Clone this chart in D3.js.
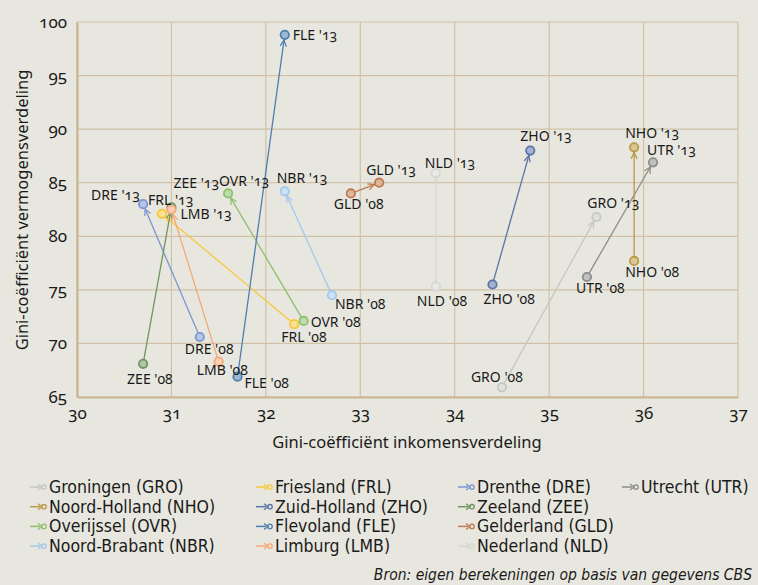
<!DOCTYPE html>
<html>
<head>
<meta charset="utf-8">
<title>Gini inkomen vs vermogen</title>
<script src="https://cdnjs.cloudflare.com/ajax/libs/d3/7.8.5/d3.min.js"></script>
<style>
  body { margin: 0; background: #e8e7df; }
  svg { display: block; }
  .num { font-variant-numeric: oldstyle-nums; }
</style>
</head>
<body>
<script>
// data
var codes   = ["GRO", "FRL", "DRE", "UTR", "NHO", "ZHO", "ZEE", "OVR", "FLE", "GLD", "NBR", "LMB", "NLD"];
var names   = ["Groningen", "Friesland", "Drenthe", "Utrecht", "Noord-Holland", "Zuid-Holland", "Zeeland",
               "Overijssel", "Flevoland", "Gelderland", "Noord-Brabant", "Limburg", "Nederland"];
var inkomen08  = [34.5, 32.3, 31.3, 35.4, 35.9, 34.4, 30.7, 32.4, 31.7, 32.9, 32.7, 31.5, 33.8];
var vermogen08 = [65.9, 71.8, 70.6, 76.2, 77.7, 75.5, 68.1, 72.1, 66.9, 84.0, 74.5, 68.3, 75.3];
var inkomen13  = [35.5, 30.9, 30.7, 36.1, 35.9, 34.8, 31.0, 31.6, 32.2, 33.2, 32.2, 31.0, 33.8];
var vermogen13 = [81.8, 82.1, 83.0, 86.9, 88.3, 88.0, 82.7, 84.0, 98.8, 85.0, 84.2, 82.5, 85.9];
var colors = ["#c6c6c2", "#f7c83a", "#7b96d2", "#8c8c8a", "#b99a45", "#5a74aa", "#6f9562",
              "#8cc06c", "#4f7fb0", "#c07a50", "#a4c8ec", "#f5a878", "#d6d6d2"];
var xTicks = [30, 31, 32, 33, 34, 35, 36, 37];
var yTicks = [65, 70, 75, 80, 85, 90, 95, 100];
var legendOrder = ["GRO", "NHO", "OVR", "NBR", "FRL", "ZHO", "FLE", "LMB", "DRE", "ZEE", "GLD", "NLD", "UTR"];

// label placement (pixels from the point): [dx, dy] for '08 and '13
var lab08 = {GRO: [-31, -5], FRL: [-13, 18], DRE: [-15, 17], UTR: [-11, 16], NHO: [-9, 16], ZHO: [-9, 19],
             ZEE: [-16, 20], OVR: [7, 6], FLE: [7, 11], GLD: [-17, 16], NBR: [3, 14], LMB: [-22, 13], NLD: [-19, 19]};
var lab13 = {GRO: [-9, -9], FRL: [-14, -9], DRE: [-52, -4], UTR: [-6, -7], NHO: [-9, -9], ZHO: [-10, -10],
             ZEE: [2, -19], OVR: [-9, -7], FLE: [8, 5], GLD: [-13, -8], NBR: [-8, -8], LMB: [9, 9], NLD: [-11, -5]};

var width = 758, height = 585;
var x0 = 77, x1 = 738, y0 = 397, y1 = 22;

var data = codes.map(function(c, i) {
  return {code: c, name: names[i], color: colors[i],
          a: [inkomen08[i], vermogen08[i]], b: [inkomen13[i], vermogen13[i]]};
});

var svg = d3.select("body").append("svg")
  .attr("width", width).attr("height", height)
  .style("font-family", "'Noto Sans', 'Open Sans', sans-serif");

var x = d3.scaleLinear().domain([30, 37]).range([x0, x1]);
var y = d3.scaleLinear().domain([65, 100]).range([y0, y1]);

// grid
svg.append("g").selectAll("line").data(xTicks).join("line")
  .attr("x1", d => x(d)).attr("x2", d => x(d)).attr("y1", y1).attr("y2", y0)
  .attr("stroke", "#cfc2a6").attr("stroke-width", 1.2);
svg.append("g").selectAll("line").data(yTicks).join("line")
  .attr("x1", x0).attr("x2", x1).attr("y1", d => y(d)).attr("y2", d => y(d))
  .attr("stroke", "#cfc2a6").attr("stroke-width", 1.2);

// axes
var xAxis = svg.append("g").attr("transform", "translate(0," + y0 + ")")
  .call(d3.axisBottom(x).tickValues(xTicks).tickFormat(d3.format("d")).tickSize(0).tickPadding(10));
var yAxis = svg.append("g").attr("transform", "translate(" + x0 + ",0)")
  .call(d3.axisLeft(y).tickValues(yTicks).tickFormat(d3.format("d")).tickSize(0).tickPadding(10));
[xAxis, yAxis].forEach(function(g) {
  g.select(".domain").attr("stroke", "#c9b792").attr("stroke-width", 2.2);
  g.selectAll("text").attr("class", "num").style("font-size", "17px")
    .style("font-family", "'Noto Sans', sans-serif").attr("fill", "#1a1a1a");
});

svg.append("text").attr("x", 407).attr("y", 448).attr("text-anchor", "middle")
  .style("font-size", "16.5px").attr("fill", "#1a1a1a")
  .text("Gini-coëfficiënt inkomensverdeling");
svg.append("text").attr("transform", "translate(28,210) rotate(-90)").attr("text-anchor", "middle")
  .style("font-size", "16.5px").attr("fill", "#1a1a1a")
  .text("Gini-coëfficiënt vermogensverdeling");

// arrow heads
var defs = svg.append("defs");
data.forEach(function(d) {
  defs.append("marker").attr("id", "arr-" + d.code)
    .attr("viewBox", "0 0 10 10").attr("refX", 10).attr("refY", 5)
    .attr("markerWidth", 6).attr("markerHeight", 6).attr("orient", "auto")
    .append("path").attr("d", "M1,1 L9,5 L1,9").attr("fill", "none")
    .attr("stroke", d.color).attr("stroke-width", 1.6);
});

// lines, shortened so the arrow tip sits at the ring
svg.append("g").selectAll("line").data(data).join("line")
  .each(function(d) {
    var ax = x(d.a[0]), ay = y(d.a[1]), bx = x(d.b[0]), by = y(d.b[1]);
    var len = Math.hypot(bx - ax, by - ay), r = 4.5;
    d3.select(this)
      .attr("x1", ax + (bx - ax) * r / len).attr("y1", ay + (by - ay) * r / len)
      .attr("x2", bx - (bx - ax) * r / len).attr("y2", by - (by - ay) * r / len);
  })
  .attr("stroke", d => d.color).attr("stroke-width", 1.3)
  .attr("marker-end", d => "url(#arr-" + d.code + ")");

// points
var pts = [];
data.forEach(function(d) {
  pts.push({d: d, v: d.a, lab: d.code + " '08", off: lab08[d.code]});
  pts.push({d: d, v: d.b, lab: d.code + " '13", off: lab13[d.code]});
});
svg.append("g").selectAll("circle").data(pts).join("circle")
  .attr("cx", p => x(p.v[0])).attr("cy", p => y(p.v[1])).attr("r", 4.2)
  .attr("fill", p => d3.interpolateRgb(p.d.color, "#ffffff")(0.45))
  .attr("stroke", p => p.d.color).attr("stroke-width", 1.8);

svg.append("g").selectAll("text").data(pts).join("text")
  .attr("class", "num")
  .attr("x", p => x(p.v[0]) + p.off[0]).attr("y", p => y(p.v[1]) + p.off[1])
  .style("font-size", "14px").attr("fill", "#1a1a1a")
  .text(p => p.lab);

// legend
var legend = svg.append("g").style("font-family", "'DejaVu Sans', sans-serif")
  .style("font-stretch", "condensed");
var colX = [30, 256, 458, 622];
legendOrder.forEach(function(c, k) {
  var d = data[codes.indexOf(c)];
  var gx = colX[Math.floor(k / 4)], gy = 487 + (k % 4) * 19.7;
  var g = legend.append("g").attr("transform", "translate(" + gx + "," + gy + ")");
  g.append("line").attr("x1", 0).attr("x2", 10).attr("y1", 0).attr("y2", 0)
    .attr("stroke", d.color).attr("stroke-width", 1.5);
  g.append("path").attr("d", "M8,-3 L12,0 L8,3").attr("fill", "none")
    .attr("stroke", d.color).attr("stroke-width", 1.3);
  g.append("circle").attr("cx", 14).attr("cy", 0).attr("r", 2.2)
    .attr("fill", "none").attr("stroke", d.color).attr("stroke-width", 1.3);
  g.append("text").attr("x", 19).attr("y", 6).style("font-size", "17.5px")
    .attr("fill", "#1a1a1a").text(d.name + " (" + d.code + ")");
});

svg.append("text").attr("x", 752).attr("y", 580).attr("text-anchor", "end")
  .style("font-family", "'DejaVu Sans', sans-serif").style("font-stretch", "condensed")
  .style("font-style", "italic").style("font-size", "15.5px").attr("fill", "#1a1a1a")
  .text("Bron: eigen berekeningen op basis van gegevens CBS");
</script>
</body>
</html>
